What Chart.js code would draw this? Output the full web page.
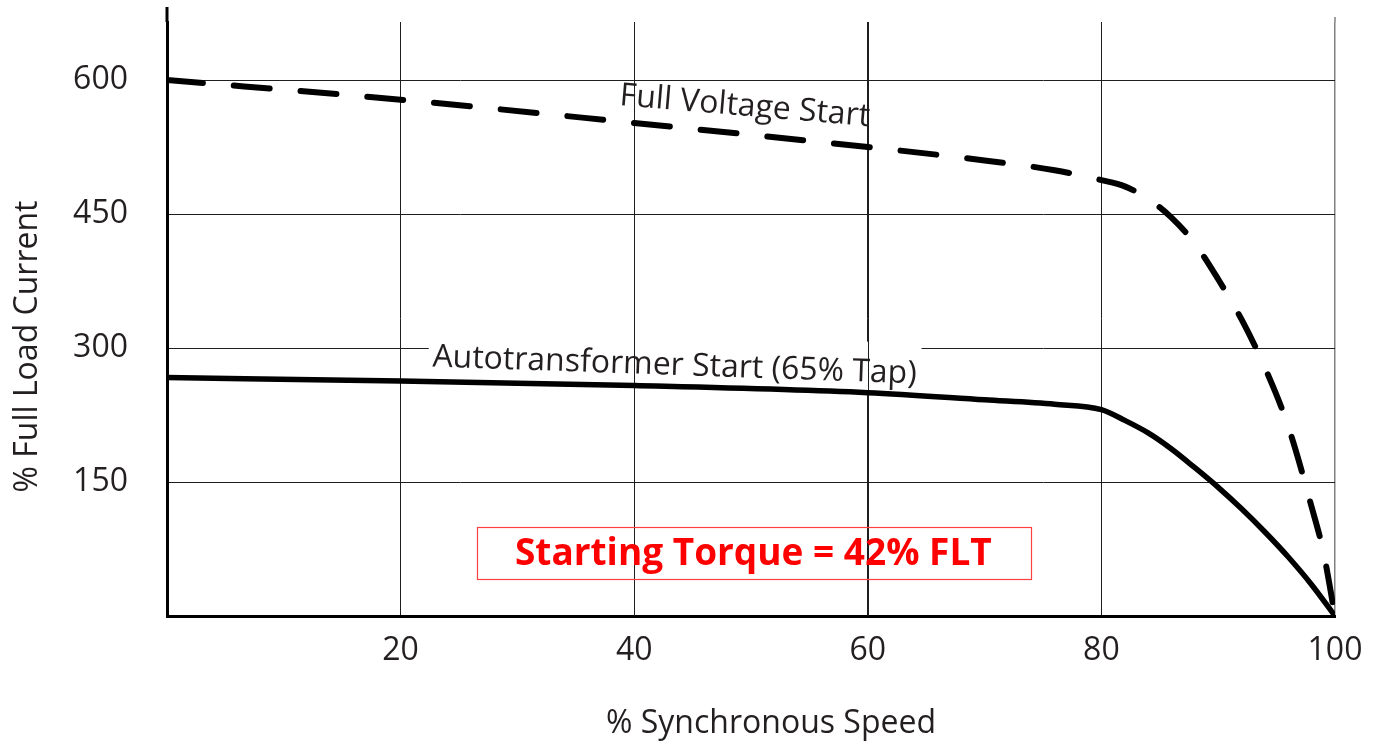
<!DOCTYPE html>
<html>
<head>
<meta charset="utf-8">
<title>Starting current vs speed</title>
<script src="https://cdn.jsdelivr.net/npm/chart.js@4.4.1/dist/chart.umd.min.js"></script>
<style>
  html, body { margin: 0; padding: 0; background: #fff; }
  .chart-box { width: 1375px; height: 744px; position: relative; }
</style>
</head>
<body>
<div class="chart-box"><canvas id="startChart"></canvas></div>
<script>
// tick values
const speedTicks = [20, 40, 60, 80, 100];
const currentTicks = [150, 300, 450, 600];

// full voltage start (dashed)
const fullVoltageSpeed = [0, 20, 40, 60, 70, 76, 80, 82, 84, 86, 88, 90, 92, 94, 96, 98, 99, 100];
const fullVoltageCurrent = [600, 578, 552, 525, 510, 499, 488, 481, 467, 446, 417, 377, 332, 278, 212, 122, 72, 0];

// autotransformer start, 65% tap (solid)
const autoSpeed = [0, 20, 40, 60, 70, 76, 80, 82, 84, 86, 88, 90, 92, 94, 96, 98, 100];
const autoCurrent = [267, 263, 258, 250, 242, 237, 231, 219, 205, 187, 166, 144, 120, 94, 66, 35, 0];

const FONT = "'Open Sans', 'Noto Sans', sans-serif";
const TEXT_COLOR = '#231f20';

Chart.defaults.font.family = FONT;
Chart.defaults.font.size = 32;
Chart.defaults.color = TEXT_COLOR;

const toPoints = (xs, ys) => xs.map((x, i) => ({ x: x, y: ys[i] }));

// text and frames that are not part of the axes
const labelsPlugin = {
  id: 'chartLabels',
  beforeDatasetsDraw(chart) {
    const { ctx, chartArea, scales: { x, y } } = chart;

    // left axis and the 100 line stick out above the plot
    ctx.save();
    ctx.strokeStyle = '#000';
    ctx.lineWidth = 3;
    ctx.beginPath();
    ctx.moveTo(chartArea.left, 7);
    ctx.lineTo(chartArea.left, chartArea.top);
    ctx.stroke();
    const x100 = x.getPixelForValue(100);
    ctx.strokeStyle = '#808080';
    ctx.lineWidth = 1.5;
    ctx.beginPath();
    ctx.moveTo(x100, 17);
    ctx.lineTo(x100, chartArea.top);
    ctx.stroke();
    ctx.restore();

    // white plate behind the autotransformer label (hides the 300 line)
    ctx.save();
    ctx.font = '32px ' + FONT;
    const w = ctx.measureText('Autotransformer Start (65% Tap)').width;
    ctx.translate(x.getPixelForValue(22.7), y.getPixelForValue(279.4));
    ctx.rotate(2 * Math.PI / 180);
    ctx.fillStyle = '#fff';
    ctx.fillRect(-4, -40, w + 8, 50);
    ctx.restore();

    // vertical grid lines stay visible over the plate
    const left = x.getPixelForValue(22.7), right = left + w + 8;
    ctx.save();
    ctx.strokeStyle = '#1e1e1e';
    ctx.lineWidth = 1;
    speedTicks.forEach(v => {
      const px = Math.round(x.getPixelForValue(v)) + 0.5;
      if (px > left && px < right) {
        ctx.beginPath();
        ctx.moveTo(px, chartArea.top);
        ctx.lineTo(px, chartArea.bottom);
        ctx.stroke();
      }
    });
    ctx.restore();
  },
  afterDatasetsDraw(chart) {
    const { ctx, scales: { x, y } } = chart;

    const rotatedText = (text, vx, vy, deg) => {
      ctx.save();
      ctx.translate(x.getPixelForValue(vx), y.getPixelForValue(vy));
      ctx.rotate(deg * Math.PI / 180);
      ctx.fillText(text, 0, 0);
      ctx.restore();
    };

    ctx.save();
    ctx.fillStyle = TEXT_COLOR;
    ctx.font = '32px ' + FONT;
    ctx.textAlign = 'left';
    ctx.textBaseline = 'alphabetic';
    rotatedText('Full Voltage Start', 38.7, 572, 4.8);
    rotatedText('Autotransformer Start (65% Tap)', 22.7, 279.4, 2);

    // starting torque box
    const bx0 = x.getPixelForValue(26.5), bx1 = x.getPixelForValue(73.9);
    const by0 = y.getPixelForValue(100), by1 = y.getPixelForValue(41.8);
    ctx.strokeStyle = '#ff4040';
    ctx.lineWidth = 1.2;
    ctx.strokeRect(Math.round(bx0) + 0.5, Math.round(by0) + 0.5, Math.round(bx1 - bx0), Math.round(by1 - by0));
    ctx.fillStyle = '#ff0000';
    ctx.font = 'bold 37px ' + FONT;
    ctx.textAlign = 'center';
    ctx.fillText('Starting Torque = 42% FLT', (bx0 + bx1) / 2, y.getPixelForValue(57.4));

    // axis titles
    ctx.fillStyle = TEXT_COLOR;
    ctx.font = '32px ' + FONT;
    ctx.fillText('% Synchronous Speed', 771, 733);
    ctx.translate(37, 346.5);
    ctx.rotate(-Math.PI / 2);
    ctx.fillText('% Full Load Current', 0, 0);
    ctx.restore();
  }
};

new Chart(document.getElementById('startChart'), {
  type: 'line',
  data: {
    datasets: [
      {
        label: 'Full Voltage Start',
        data: toPoints(fullVoltageSpeed, fullVoltageCurrent),
        borderColor: '#000',
        borderWidth: 6,
        borderDash: [36, 31],
        borderCapStyle: 'round',
        pointRadius: 0,
        cubicInterpolationMode: 'monotone',
        fill: false
      },
      {
        label: 'Autotransformer Start (65% Tap)',
        data: toPoints(autoSpeed, autoCurrent),
        borderColor: '#000',
        borderWidth: 5.5,
        borderCapStyle: 'round',
        pointRadius: 0,
        cubicInterpolationMode: 'monotone',
        fill: false
      }
    ]
  },
  options: {
    responsive: true,
    maintainAspectRatio: false,
    animation: false,
    layout: { padding: { top: 22, right: 40, left: 0, bottom: 0 } },
    plugins: {
      legend: { display: false },
      tooltip: { enabled: false }
    },
    scales: {
      x: {
        type: 'linear',
        min: 0,
        max: 100,
        afterBuildTicks: s => { s.ticks = speedTicks.map(v => ({ value: v })); },
        afterFit: s => { s.height = 128; s.paddingLeft = 0; s.paddingRight = 0; },
        grid: {
          drawTicks: false,
          color: c => (c.tick && c.tick.value === 100 ? '#808080' : '#1e1e1e'),
          lineWidth: c => (c.tick && c.tick.value === 100 ? 1.5 : 1)
        },
        border: { color: '#000', width: 3 },
        ticks: { padding: 16, maxRotation: 0 }
      },
      y: {
        type: 'linear',
        min: 0,
        max: 665,
        afterBuildTicks: s => { s.ticks = currentTicks.map(v => ({ value: v })); },
        afterFit: s => { s.width = 167; s.paddingTop = 0; s.paddingBottom = 0; },
        grid: { drawTicks: false, color: '#1e1e1e', lineWidth: 1 },
        border: { color: '#000', width: 3 },
        ticks: { padding: 39 }
      }
    }
  },
  plugins: [labelsPlugin]
});
</script>
</body>
</html>
